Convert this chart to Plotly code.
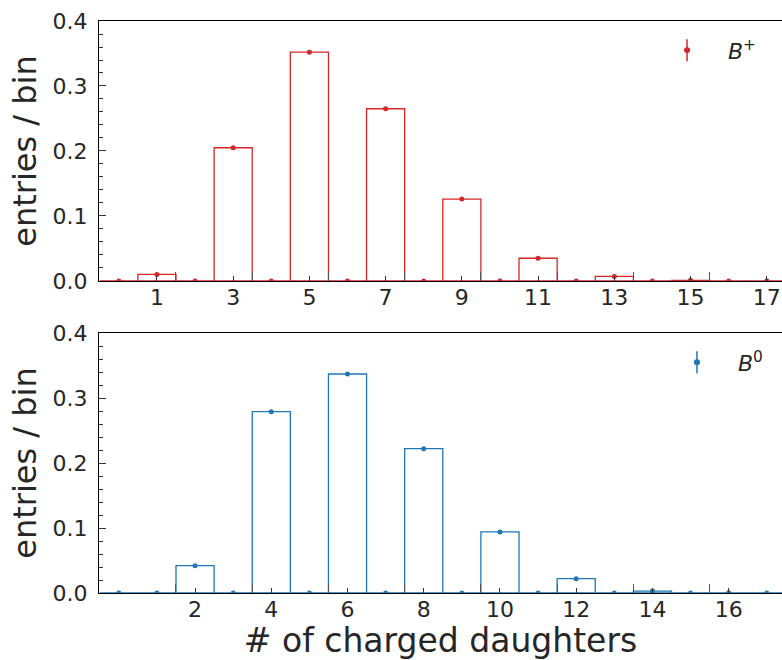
import plotly.graph_objects as go

# ---- data ----
n_daughters = list(range(0, 18))
bplus_frac = [0.0, 0.010, 0.0, 0.205, 0.0, 0.352, 0.0, 0.265, 0.0, 0.126,
              0.0, 0.035, 0.0, 0.007, 0.0, 0.001, 0.0, 0.0003]
bzero_frac = [0.0, 0.0, 0.042, 0.0, 0.279, 0.0, 0.337, 0.0, 0.222, 0.0,
              0.094, 0.0, 0.022, 0.0, 0.003, 0.0, 0.0003, 0.0]
top_ticks = [1, 3, 5, 7, 9, 11, 13, 15, 17]
bottom_ticks = [2, 4, 6, 8, 10, 12, 14, 16]
edge_ticks = [1.5, 3.5, 5.5, 7.5, 9.5, 11.5, 13.5, 15.5]
y_ticks = [0.0, 0.1, 0.2, 0.3, 0.4]
y_labels = ["0.0", "0.1", "0.2", "0.3", "0.4"]
labels = ["<i>B</i><sup>+</sup>", "<i>B</i><sup>0</sup>"]

RED = "#d62728"
BLUE = "#1f77b4"
FONT = "DejaVu Sans"
TXT = "#262626"

fig = go.Figure()

for frac, color, xa, ya in [(bplus_frac, RED, "x", "y"), (bzero_frac, BLUE, "x2", "y2")]:
    fig.add_trace(go.Bar(
        x=n_daughters, y=frac, width=1.0,
        marker=dict(color="rgba(0,0,0,0)", line=dict(color=color, width=1.3)),
        xaxis=xa, yaxis=ya, showlegend=False, hoverinfo="skip"))
    fig.add_trace(go.Scatter(
        x=n_daughters, y=frac, mode="markers",
        marker=dict(color=color, size=5),
        xaxis=xa, yaxis=ya, showlegend=False))

xcommon = dict(range=[-0.52, 17.4], ticks="inside", ticklen=5, tickwidth=1,
               tickcolor="#333", showline=True, linecolor="black", linewidth=1.3,
               mirror=True, showgrid=False, zeroline=False,
               ticklabelstandoff=-4,
               tickfont=dict(family=FONT, size=22, color=TXT),
               minor=dict(tickvals=edge_ticks, ticks="inside", ticklen=9,
                          tickcolor="#555", tickwidth=1, showgrid=False))
ycommon = dict(range=[0, 0.4], ticks="inside", ticklen=7, tickwidth=1,
               tickcolor="#333", tickvals=y_ticks, ticktext=y_labels,
               showline=True, linecolor="black", linewidth=1.3,
               showgrid=False, zeroline=False,
               ticklabelstandoff=6,
               tickfont=dict(family=FONT, size=22, color=TXT),
               minor=dict(dtick=0.02, ticks="inside", ticklen=4,
                          tickcolor="#333", showgrid=False),
               title=dict(text="entries / bin",
                          font=dict(family=FONT, size=32, color=TXT),
                          standoff=6))

fig.update_layout(
    width=782, height=660,
    margin=dict(l=99, r=0, t=21, b=67),
    plot_bgcolor="white", paper_bgcolor="white",
    barmode="overlay",
    xaxis=dict(xcommon, domain=[0, 1], anchor="y", tickvals=top_ticks,
               ticktext=[str(v) for v in top_ticks]),
    yaxis=dict(ycommon, domain=[0.5455, 1.0], anchor="x"),
    xaxis2=dict(xcommon, domain=[0, 1], anchor="y2", tickvals=bottom_ticks,
                ticktext=[str(v) for v in bottom_ticks],
                title=dict(text="# of charged daughters",
                           font=dict(family=FONT, size=33, color=TXT),
                           standoff=8)),
    yaxis2=dict(ycommon, domain=[0.0, 0.4545], anchor="x2"),
)

# legend glyphs (error-bar marker + label) drawn in axis-domain coordinates
for (xr, yr, lx, tx, color, lab) in [("x domain", "y domain", 0.861, 0.918, RED, labels[0]),
                                     ("x2 domain", "y2 domain", 0.8755, 0.933, BLUE, labels[1])]:
    fig.add_shape(type="line", xref=xr, yref=yr, x0=lx, x1=lx, y0=0.845, y1=0.93,
                  line=dict(color=color, width=1.5))
    fig.add_shape(type="circle", xref=xr, yref=yr, x0=lx - 0.0045, x1=lx + 0.0045,
                  y0=0.888 - 0.011, y1=0.888 + 0.011,
                  fillcolor=color, line=dict(color=color, width=0))
    fig.add_annotation(xref=xr, yref=yr, x=tx, y=0.888, text=lab, showarrow=False,
                       xanchor="left", yanchor="middle",
                       font=dict(family=FONT, size=22, color=TXT))

# remove the default page margin so the 782x660 figure fills the window exactly
fig.write_html("out.html", config={"displayModeBar": False},
               post_script="document.body.style.margin='0';document.body.style.overflow='hidden';")
